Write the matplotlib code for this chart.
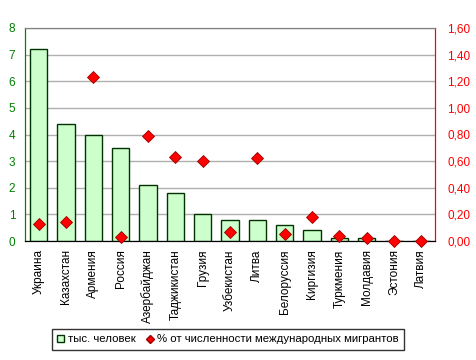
import matplotlib
matplotlib.use("Agg")
import matplotlib.pyplot as plt
from matplotlib.lines import Line2D
from matplotlib.patches import Patch

categories = ["Украина", "Казахстан", "Армения", "Россия", "Азербайджан", "Таджикистан",
              "Грузия", "Узбекистан", "Литва", "Белоруссия", "Киргизия", "Туркмения",
              "Молдавия", "Эстония", "Латвия"]
thousands = [7.2, 4.4, 4.0, 3.5, 2.1, 1.8, 1.0, 0.78, 0.78, 0.6, 0.4, 0.1, 0.1, 0.0, 0.0]
percent = [0.13, 0.14, 1.23, 0.03, 0.79, 0.63, 0.60, 0.07, 0.62, 0.05, 0.18, 0.04, 0.02, 0.0, 0.0]
left_ticks = [0, 1, 2, 3, 4, 5, 6, 7, 8]
right_ticks = [0.0, 0.2, 0.4, 0.6, 0.8, 1.0, 1.2, 1.4, 1.6]

plt.rcParams['font.family'] = ['Liberation Sans', 'DejaVu Sans']
fs = 8.5

fig = plt.figure(figsize=(4.76, 3.6), dpi=100)
ax = fig.add_axes([25/476, 1-241/360, 410/476, 213/360])
ax2 = ax.twinx()

x = list(range(len(categories)))
ax.bar(x, thousands, width=0.64, color="#CCFFCC", edgecolor="#003300", linewidth=1.0, zorder=3)
ax.set_xlim(-0.5, len(categories)-0.5)
ax.set_ylim(0, 8)
ax.set_yticks(left_ticks)
ax.set_yticklabels([str(t) for t in left_ticks], color="#008000", fontsize=fs)
ax.yaxis.grid(True, color="#B0B0B0", linewidth=1.0, zorder=0)
ax.set_axisbelow(True)
ax.set_xticks(x)
ax.set_xticklabels(categories, rotation=90, fontsize=fs, va="top")
ax.tick_params(axis='x', length=0, pad=6)
ax.tick_params(axis='y', length=0, pad=7)

ax2.plot(x, percent, linestyle="none", marker="D", markersize=6.5,
         markerfacecolor="#FF0000", markeredgecolor="#990000", markeredgewidth=0.6, zorder=5, clip_on=False)
ax2.set_ylim(0, 1.6)
ax2.set_yticks(right_ticks)
ax2.set_yticklabels([f"{t:.2f}".replace(".", ",") for t in right_ticks], color="#FF0000", fontsize=fs)
ax2.tick_params(axis='y', length=0, pad=9)

for a in (ax, ax2):
    a.spines['top'].set_color("#808080")
    a.spines['left'].set_color("#008000")
    a.spines['right'].set_color("#FF0000")
    a.spines['bottom'].set_color("black")

handles = [Patch(facecolor="#CCFFCC", edgecolor="#003300", label="тыс. человек"),
           Line2D([0], [0], linestyle="none", marker="D", markersize=4.5, markerfacecolor="#FF0000",
                  markeredgecolor="#990000", label="% от численности международных мигрантов")]
leg = fig.legend(handles=handles, loc="center", bbox_to_anchor=(228/476, 1-339.5/360), ncol=2,
                 fontsize=8.2, frameon=True, fancybox=False, edgecolor="black",
                 handlelength=0.6, handleheight=0.6, handletextpad=0.3, columnspacing=1.0, borderpad=0.45,
                 borderaxespad=0)
leg.get_frame().set_linewidth(1.0)

fig.savefig("out.png", dpi=100)
